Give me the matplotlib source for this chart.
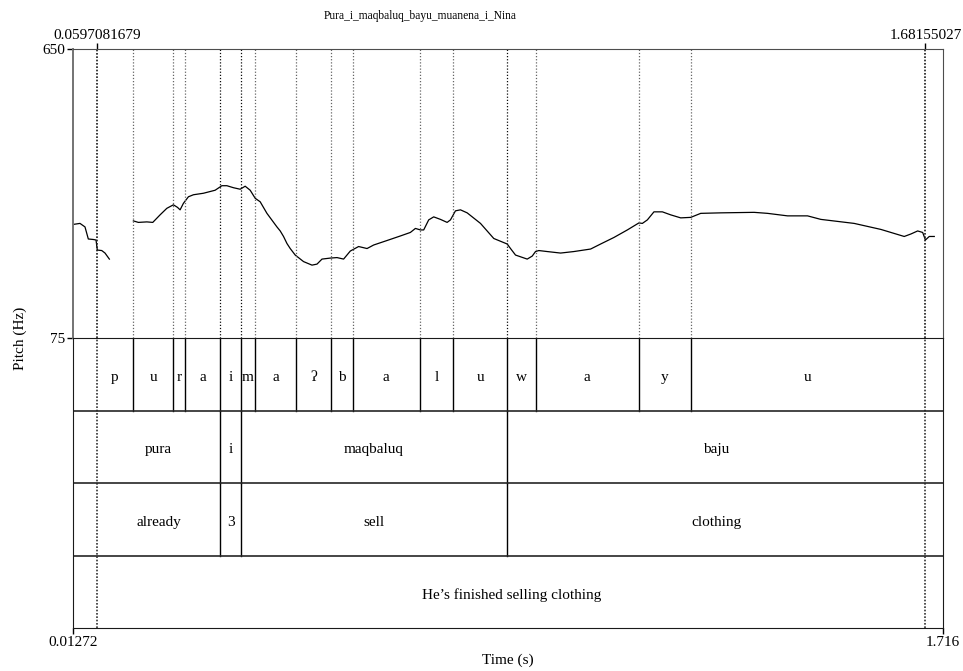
import matplotlib
matplotlib.use("Agg")
import matplotlib.pyplot as plt

# Serif like Praat's Times; DejaVu Serif covers the glottal stop
plt.rcParams['font.family'] = ['Liberation Serif', 'DejaVu Serif']

# Time / frequency range of the picture
T_MIN, T_MAX = 0.01272, 1.716
F_MIN, F_MAX = 75, 650
SEL_START, SEL_END = 0.0597081679, 1.68155027

# Pitch track (two voiced stretches)
pitch_t1 = [0.0133, 0.0264, 0.0362, 0.0427, 0.0525, 0.0578, 0.0603, 0.0690,
            0.0754, 0.0839]
pitch_hz1 = [301, 303, 296, 272, 271, 270, 250, 249, 244, 232]

pitch_t2 = [0.1309, 0.1407, 0.1572, 0.1689, 0.1832, 0.1964, 0.2093, 0.2172,
            0.2224, 0.2289, 0.2387, 0.2485, 0.2681, 0.2910, 0.3042, 0.3140,
            0.3269, 0.3400, 0.3498, 0.3596, 0.3694, 0.3792, 0.3924, 0.4120,
            0.4184, 0.4249, 0.4316, 0.4380, 0.4478, 0.4641, 0.4806, 0.4904,
            0.5002, 0.5164, 0.5296, 0.5425, 0.5556, 0.5719, 0.5884, 0.6013,
            0.6276, 0.6536, 0.6732, 0.6831, 0.6929, 0.6993, 0.7091, 0.7189,
            0.7321, 0.7452, 0.7517, 0.7615, 0.7713, 0.7844, 0.8105, 0.8365,
            0.8628, 0.8693, 0.8791, 0.9020, 0.9118, 0.9182, 0.9247, 0.9412,
            0.9673, 0.9933, 1.0261, 1.0457, 1.0717, 1.0980, 1.1207, 1.1274,
            1.1372, 1.1501, 1.1666, 1.1829, 1.2025, 1.2221, 1.2417, 1.2809,
            1.3461, 1.3724, 1.4116, 1.4508, 1.4768, 1.5421, 1.5945, 1.6401,
            1.6533, 1.6664, 1.6762, 1.6816, 1.6891, 1.6989]
pitch_hz2 = [308, 305, 306, 305, 320, 333, 340, 335,
             330, 343, 356, 360, 363, 369, 378, 378,
             374, 371, 377, 369, 353, 346, 323, 296,
             288, 277, 263, 253, 240, 227, 220, 222,
             232, 234, 235, 232, 248, 257, 253, 260,
             269, 278, 285, 293, 290, 290, 310, 316,
             311, 305, 310, 328, 330, 324, 303, 273,
             262, 253, 240, 232, 238, 247, 249, 247,
             244, 247, 252, 262, 275, 290, 304, 303,
             310, 326, 326, 320, 314, 315, 323, 324,
             325, 323, 318, 318, 311, 303, 291, 277,
             282, 288, 285, 270, 277, 277]

# TextGrid tiers
seg_bounds = [SEL_START, 0.1297, 0.2093, 0.2328, 0.3014, 0.3414, 0.3681, 0.4498,
              0.5174, 0.5602, 0.6915, 0.7569, 0.8628, 0.9182, 1.1207, 1.2221, SEL_END]
seg_labels = ['p', 'u', 'r', 'a', 'i', 'm', 'a', 'ʔ', 'b', 'a', 'l', 'u', 'w', 'a', 'y', 'u']
word_bounds = [SEL_START, 0.3014, 0.3414, 0.8628, SEL_END]
word_labels = ['pura', 'i', 'maqbaluq', 'baju']
gloss_bounds = [SEL_START, 0.3014, 0.3414, 0.8628, SEL_END]
gloss_labels = ['already', '3', 'sell', 'clothing']
sent_bounds = [SEL_START, SEL_END]
sent_labels = ['He’s finished selling clothing']

tiers = [(seg_bounds, seg_labels), (word_bounds, word_labels),
         (gloss_bounds, gloss_labels), (sent_bounds, sent_labels)]

FS = 11
W, H = 963, 671
fig = plt.figure(figsize=(W / 100, H / 100), dpi=100)

left, right = 73 / W, 943 / W
ax_p = fig.add_axes([left, 1 - 338 / H, right - left, 289 / H])
ax_t = fig.add_axes([left, 1 - 628 / H, right - left, 290 / H])

# ---- pitch panel ----
ax_p.plot(pitch_t1, pitch_hz1, color='black', lw=0.9)
ax_p.plot(pitch_t2, pitch_hz2, color='black', lw=0.9)

for b in seg_bounds[1:-1]:
    c = '0.05' if b in word_bounds else '0.4'
    ax_p.axvline(b, color=c, lw=0.9, linestyle=(0, (1, 1.5)))
for b in (SEL_START, SEL_END):
    ax_p.axvline(b, color='0.1', lw=1.2, linestyle=(0, (1, 1)))
    ax_t.axvline(b, color='0.2', lw=1.2, linestyle=(0, (1, 1)))

ax_p.set_xlim(T_MIN, T_MAX)
ax_p.set_ylim(F_MIN, F_MAX)
ax_p.set_yticks([F_MIN, F_MAX])
ax_p.set_yticklabels(['75', '650'])
ax_p.set_xticks([SEL_START, SEL_END])
ax_p.set_xticklabels(['0.0597081679', '1.68155027'])
ax_p.tick_params(axis='x', top=True, labeltop=True, bottom=False, labelbottom=False,
                 direction='out', length=4, width=1, pad=1, labelsize=FS)
ax_p.tick_params(axis='y', direction='out', length=4.5, width=1, pad=1, labelsize=FS)
ax_p.spines['bottom'].set_visible(False)
ax_p.spines['left'].set_color('0.45')
ax_p.spines['left'].set_linewidth(1.4)
ax_p.spines['top'].set_color('0.3')
ax_p.spines['right'].set_color('0.3')

# ---- textgrid panel ----
ax_t.set_xlim(T_MIN, T_MAX)
ax_t.set_ylim(0, 4)
for i, (bounds, labels) in enumerate(tiers):
    y0, y1 = 3 - i, 4 - i
    for b in bounds[1:-1]:
        ax_t.plot([b, b], [y0, y1], color='black', lw=1)
    for a, b, lab in zip(bounds[:-1], bounds[1:], labels):
        ax_t.text((a + b) / 2, (y0 + y1) / 2 - 0.04, lab,
                  ha='center', va='center', fontsize=FS)
for y in (1, 2, 3):
    ax_t.axhline(y, color='0.15', lw=1.2)

ax_t.set_yticks([])
ax_t.set_xticks([T_MIN, T_MAX])
ax_t.set_xticklabels(['0.01272', '1.716'])
ax_t.tick_params(axis='x', direction='out', length=4, width=1, pad=2, labelsize=FS)
for s in ax_t.spines.values():
    s.set_color('0.1')

fig.text(420 / W, 1 - 16 / H, 'Pura_i_maqbaluq_bayu_muanena_i_Nina',
         ha='center', va='center', fontsize=8.3)
fig.text(20 / W, 1 - 338 / H, 'Pitch (Hz)', rotation=90,
         ha='center', va='center', fontsize=FS)
fig.text((73 + 943) / 2 / W, 1 - 660 / H, 'Time (s)',
         ha='center', va='center', fontsize=FS)

fig.savefig('out.png', dpi=100)
